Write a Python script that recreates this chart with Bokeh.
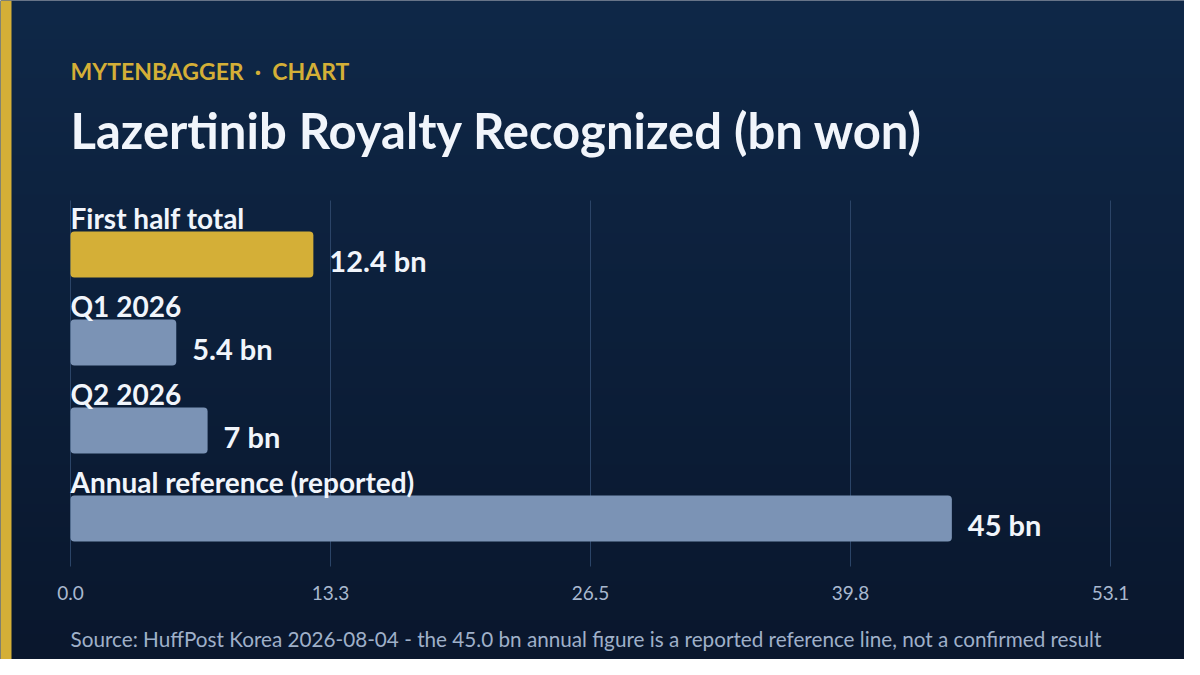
import numpy as np
from bokeh.plotting import figure
from bokeh.models import Range1d, Label, BoxAnnotation
from bokeh.core.properties import value
from bokeh.embed import file_html
from bokeh.resources import INLINE

# data
categories = ["First half total", "Q1 2026", "Q2 2026", "Annual reference (reported)"]
royalty_bn = [12.4, 5.4, 7.0, 45.0]
value_labels = ["12.4 bn", "5.4 bn", "7 bn", "45 bn"]
bar_colors = ["#d4af37", "#7b93b5", "#7b93b5", "#7b93b5"]
tick_values = [0.0, 13.275, 26.55, 39.825, 53.1]
tick_labels = ["0.0", "13.3", "26.5", "39.8", "53.1"]

FONT = "Lato"
W, H = 1184, 659

# layout (canvas pixels)
X0_PX, X1_PX = 70, 1110      # where x=0 and x=53.1 sit
ROW0_PX, ROW_PX = 254, 88    # centre of first bar, row spacing
GRID_TOP, GRID_BOTTOM = 200, 566

px_per_unit = (X1_PX - X0_PX) / tick_values[-1]
x_start = -X0_PX / px_per_unit
x_end = (W - X0_PX) / px_per_unit


def ydata(py):
    return (ROW0_PX - py) / ROW_PX


y_start, y_end = ydata(H), ydata(0)
rows = [-i for i in range(len(categories))]

p = figure(width=W, height=H, x_range=Range1d(x_start, x_end),
           y_range=Range1d(y_start, y_end), output_backend="svg",
           toolbar_location=None, min_border=0,
           x_axis_location=None, y_axis_location=None)
p.grid.visible = False
p.outline_line_color = None
p.background_fill_color = "#0c2040"
p.border_fill_color = "#0c2040"

# background gradient, darker towards the bottom
top = np.array([0x0f, 0x28, 0x48], dtype=float)
bot = np.array([0x0a, 0x17, 0x2d], dtype=float)
t = np.linspace(0, 1, H)[:, None]
rgb = (bot + (top - bot) * t).astype(np.uint8)
img = np.empty((H, 1), dtype=np.uint32)
view = img.view(dtype=np.uint8).reshape((H, 1, 4))
view[:, 0, 0] = rgb[:, 0]
view[:, 0, 1] = rgb[:, 1]
view[:, 0, 2] = rgb[:, 2]
view[:, 0, 3] = 255
p.image_rgba(image=[img], x=x_start, y=y_start, dw=x_end - x_start, dh=y_end - y_start)

# gold stripe on the left edge
p.add_layout(BoxAnnotation(left=0, right=11, left_units="screen", right_units="screen",
                           fill_color="#d4af37", fill_alpha=1, line_color=None))

# vertical grid + tick labels
p.segment(x0=tick_values, y0=ydata(GRID_TOP), x1=tick_values, y1=ydata(GRID_BOTTOM),
          line_color="#2b4467", line_width=1)
p.text(x=tick_values, y=ydata(592), text=tick_labels, text_align="center",
       text_baseline="middle", text_font=value(FONT), text_font_size="19px",
       text_color="#a9b8cf")

# bars
p.hbar(y=rows, left=0, right=royalty_bn, height=46 / ROW_PX, fill_color=bar_colors,
       line_color=None, border_radius=4)

p.text(x=0, y=rows, text=categories, y_offset=-37, text_baseline="middle",
       text_font=value(FONT), text_font_style="bold", text_font_size="28px",
       text_color="#f1f5fb")
p.text(x=royalty_bn, y=rows, text=value_labels, x_offset=16, y_offset=6,
       text_baseline="middle", text_font=value(FONT), text_font_style="bold",
       text_font_size="29px", text_color="#f1f5fb")

# headings and source
p.add_layout(Label(x=X0_PX, y=H - 70, x_units="screen", y_units="screen",
                   text="MYTENBAGGER \u00a0·\u00a0 CHART", text_font=FONT,
                   text_font_style="bold", text_font_size="23px", text_color="#d4af37",
                   text_baseline="middle"))
p.add_layout(Label(x=X0_PX, y=H - 129, x_units="screen", y_units="screen",
                   text="Lazertinib Royalty Recognized (bn won)", text_font=FONT,
                   text_font_style="bold", text_font_size="49px", text_color="#f1f5fb",
                   text_baseline="middle"))
p.add_layout(Label(x=X0_PX, y=H - 638, x_units="screen", y_units="screen",
                   text="Source: HuffPost Korea 2026-08-04 - the 45.0 bn annual figure is a reported reference line, not a confirmed result",
                   text_font=FONT, text_font_size="20.7px", text_color="#9fb0c9",
                   text_baseline="middle"))

open("out.html", "w").write(file_html(p, INLINE))
